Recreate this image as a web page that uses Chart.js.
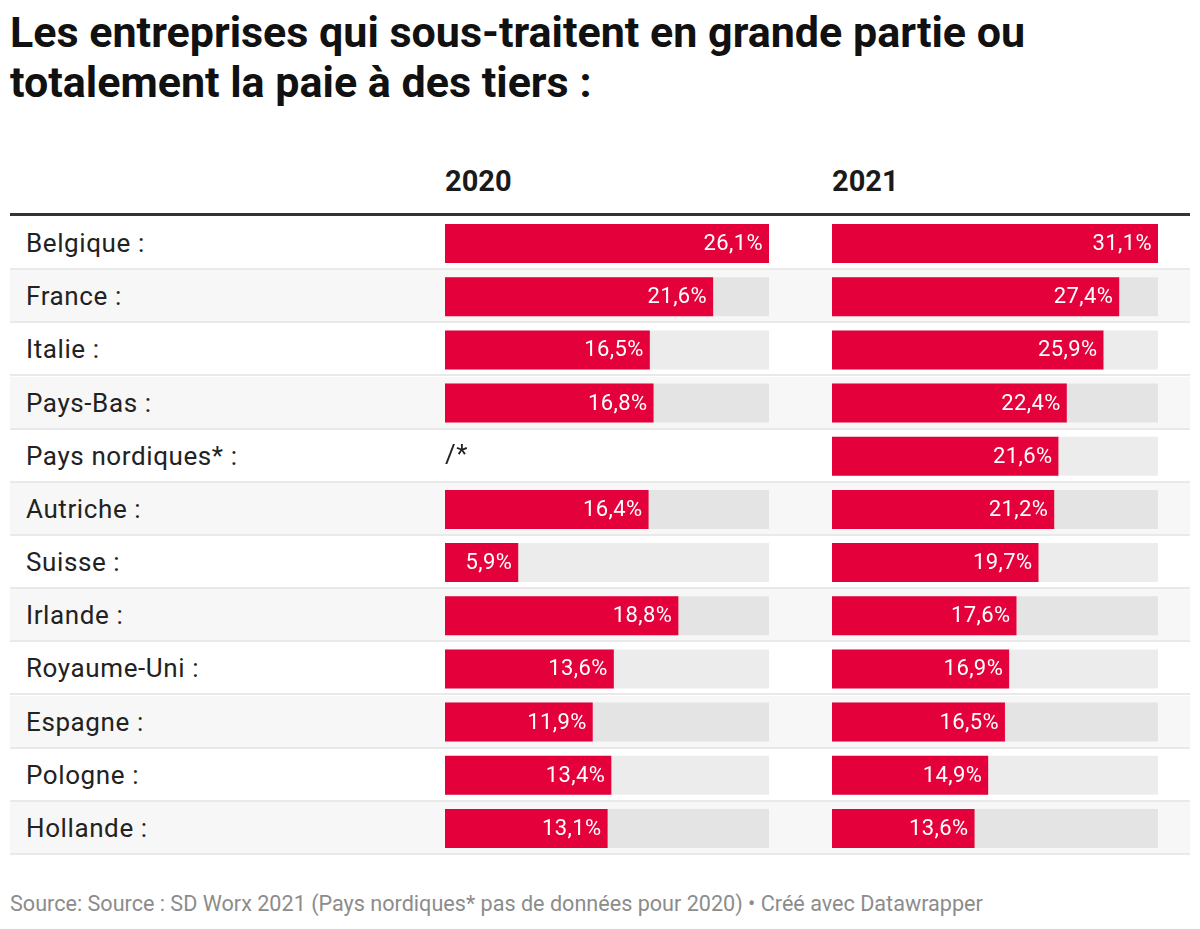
<!DOCTYPE html>
<html>
<head>
<meta charset="utf-8">
<script src="https://cdn.jsdelivr.net/npm/chart.js@4"></script>
<style>
  body { margin: 0; background: #fff; font-family: Roboto, sans-serif; color: #222; }
  #wrap { position: relative; width: 1200px; height: 929px; }
  h1 { position: absolute; left: 10px; top: 7px; margin: 0; font-size: 43px; line-height: 50px; font-weight: 700; color: #111; white-space: nowrap; }
  .head { position: absolute; top: 167px; font-size: 29px; line-height: 29px; font-weight: 700; color: #1a1a1a; }
  #topline { position: absolute; left: 10px; top: 213px; width: 1180px; height: 3px; background: #333; }
  .row { position: absolute; left: 10px; width: 1180px; border-bottom: 2px solid #e9e9e9; box-sizing: border-box; }
  .row span { position: absolute; left: 16px; font-size: 26px; line-height: 26px; letter-spacing: 0.6px; color: #222; white-space: nowrap; }
  .col { position: absolute; top: 217px; }
  #foot { position: absolute; left: 10px; top: 893px; font-size: 21.6px; line-height: 21.6px; color: #8c8c8c; white-space: nowrap; }
</style>
</head>
<body>
<div id="wrap">
  <h1>Les entreprises qui sous-traitent en grande partie ou<br>totalement la paie à des tiers :</h1>
  <div class="head" style="left:445px">2020</div>
  <div class="head" style="left:832px">2021</div>
  <div id="topline"></div>
  <div id="rows"></div>
  <div class="col" style="left:445px;width:324px;height:638px"><canvas id="c2020"></canvas></div>
  <div class="col" style="left:832px;width:326px;height:638px"><canvas id="c2021"></canvas></div>
  <div id="foot">Source: Source : SD Worx 2021 (Pays nordiques* pas de données pour 2020) • Créé avec Datawrapper</div>
</div>
<script>
const countries = ['Belgique :', 'France :', 'Italie :', 'Pays-Bas :', 'Pays nordiques* :', 'Autriche :', 'Suisse :', 'Irlande :', 'Royaume-Uni :', 'Espagne :', 'Pologne :', 'Hollande :']
const values2020 = [26.1, 21.6, 16.5, 16.8, null, 16.4, 5.9, 18.8, 13.6, 11.9, 13.4, 13.1]
const values2021 = [31.1, 27.4, 25.9, 22.4, 21.6, 21.2, 19.7, 17.6, 16.9, 16.5, 14.9, 13.6]

// table rows behind the bars
const rowH = 638 / countries.length
const rows = document.querySelector('#rows')
countries.forEach((name, i) => {
  const row = document.createElement('div')
  row.className = 'row'
  row.style.top = (217 + i * rowH) + 'px'
  row.style.height = rowH + 'px'
  row.style.background = i % 2 ? '#f7f7f7' : '#fff'
  const label = document.createElement('span')
  label.textContent = name
  label.style.top = '13px'
  row.appendChild(label)
  rows.appendChild(row)
})

// value labels inside the bar ends, "/*" where there is no data
const valueLabels = {
  id: 'valueLabels',
  afterDatasetsDraw(chart) {
    const ctx = chart.ctx
    const meta = chart.getDatasetMeta(0)
    const data = chart.data.datasets[0].data
    ctx.save()
    ctx.textBaseline = 'middle'
    meta.data.forEach((bar, i) => {
      if (data[i] === null) {
        ctx.fillStyle = '#222'
        ctx.font = '26px Roboto'
        ctx.textAlign = 'left'
        ctx.fillText('/*', chart.chartArea.left, bar.y)
        return
      }
      ctx.fillStyle = '#fff'
      ctx.font = '22px Roboto'
      ctx.letterSpacing = '0.4px'
      ctx.textAlign = 'right'
      ctx.fillText(data[i].toFixed(1).replace('.', ',') + '%', bar.x - 6, bar.y + 1)
    })
    ctx.restore()
  }
}

function makeChart(id, values) {
  const max = Math.max(...values.filter(v => v !== null))
  new Chart(document.querySelector(id), {
    type: 'bar',
    data: {
      labels: countries,
      datasets: [
        {
          data: values,
          backgroundColor: '#e4003b',
          grouped: false,
          order: 1,
          barPercentage: 0.735,
          categoryPercentage: 1
        },
        {
          data: values.map(v => v === null ? null : max),
          backgroundColor: 'rgba(0,0,0,0.075)',
          grouped: false,
          order: 2,
          barPercentage: 0.735,
          categoryPercentage: 1
        }
      ]
    },
    options: {
      indexAxis: 'y',
      responsive: true,
      maintainAspectRatio: false,
      animation: false,
      layout: { padding: 0 },
      plugins: { legend: { display: false }, tooltip: { enabled: false } },
      scales: {
        x: { display: false, min: 0, max: max },
        y: { display: false }
      }
    },
    plugins: [valueLabels]
  })
}

makeChart('#c2020', values2020)
makeChart('#c2021', values2021)
</script>
</body>
</html>
